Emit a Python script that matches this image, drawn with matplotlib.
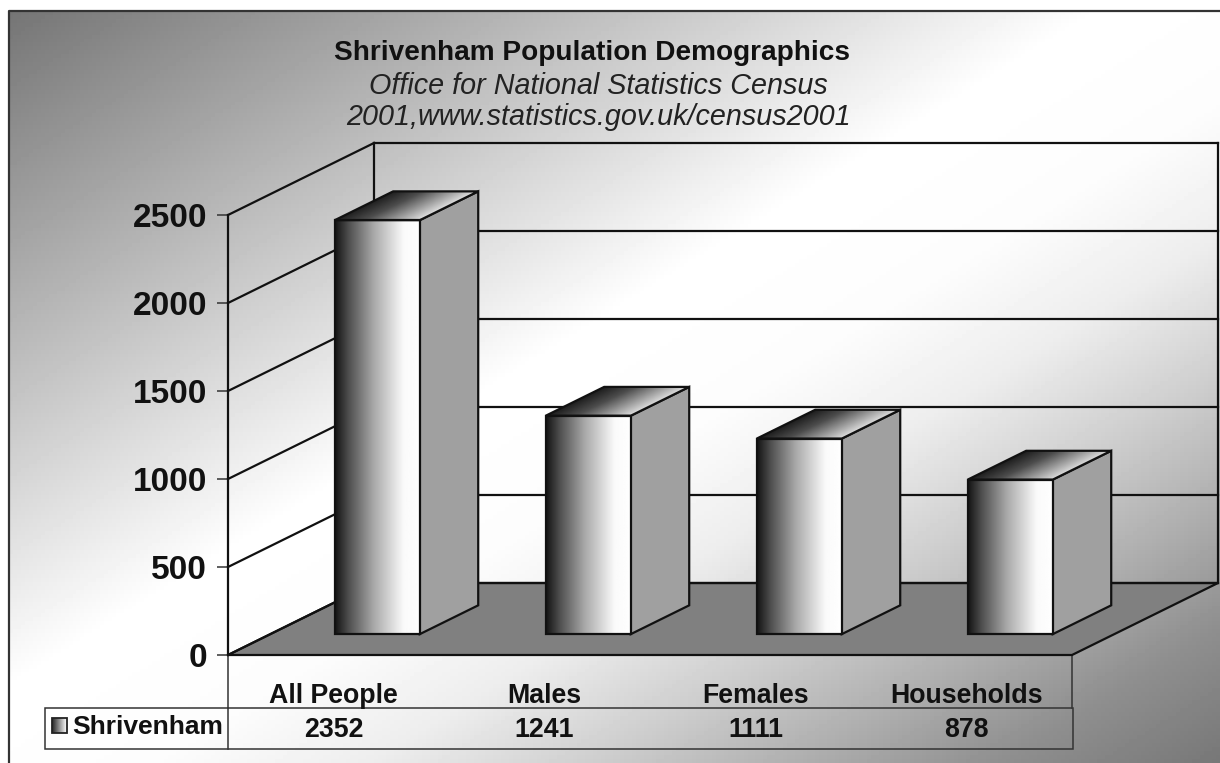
import numpy as np
import matplotlib
matplotlib.use('Agg')
import matplotlib.pyplot as plt
from matplotlib.patches import Polygon, Rectangle

plt.rcParams['font.family'] = ['Liberation Sans', 'DejaVu Sans']

categories = ['All People', 'Males', 'Females', 'Households']
values = [2352, 1241, 1111, 878]
series_name = 'Shrivenham'
y_ticks = [0, 500, 1000, 1500, 2000, 2500]

W, H = 1220, 763
fig = plt.figure(figsize=(W / 100, H / 100), dpi=100, facecolor='white')

# background, in pixel coordinates
bg = fig.add_axes([0, 0, 1, 1])
bg.set_xlim(0, W)
bg.set_ylim(H, 0)
bg.axis('off')
xx, yy = np.meshgrid(np.linspace(0, 1, 305), np.linspace(0, 1, 191))
t = (xx + yy) / 2
shade = np.interp(t, [0, 0.45, 0.56, 0.65, 0.74, 0.83, 0.91, 1], [0.46, 1, 0.99, 0.93, 0.81, 0.68, 0.56, 0.47])
bg.imshow(shade, extent=(9, W, H, 11), cmap='gray', vmin=0, vmax=1, aspect='auto', zorder=0)
bg.set_xlim(0, W)
bg.set_ylim(H, 0)
bg.plot([9, 9, W], [H, 11, 11], color='#333333', lw=1.6, zorder=1)

bg.text(592, 53, 'Shrivenham Population Demographics', fontsize=20.2, fontweight='bold',
        ha='center', va='center', color='#111111')
bg.text(598, 86, 'Office for National Statistics Census', fontsize=20.7, fontstyle='italic',
        ha='center', va='center', color='#222222')
bg.text(598, 117, '2001,www.statistics.gov.uk/census2001', fontsize=20.7, fontstyle='italic',
        ha='center', va='center', color='#222222')

# front plane of the 3d box is the real axes
ax = fig.add_axes([228 / W, 1 - 655 / H, 844 / W, 440 / H])
ax.patch.set_alpha(0)
n = len(categories)
PX_X = n / 844
PX_Y = 2500 / 440
DX = 146 * PX_X   # depth of the box
DY = 72 * PX_Y
BAR_W = 0.403
LINE = 1.6


def seg(xs, ys, **kw):
    kw.setdefault('color', '#111111')
    kw.setdefault('lw', LINE)
    ax.plot(xs, ys, clip_on=False, solid_capstyle='projecting', **kw)


# floor
ax.add_patch(Polygon([(0, 0), (n, 0), (n + DX, DY), (DX, DY)], closed=True, facecolor='#808080',
                     edgecolor='#111111', lw=LINE, clip_on=False, zorder=1))
# walls and gridlines
for v in y_ticks:
    seg([DX, n + DX], [v + DY, v + DY], zorder=1)
    seg([0, DX], [v, v + DY], zorder=1)
seg([DX, DX], [DY, 2500 + DY], zorder=1)
seg([n + DX, n + DX], [DY, 2500 + DY], zorder=1)

ramp = np.interp(np.linspace(0, 1, 128), [0, 0.15, 0.45, 0.8, 1], [0.08, 0.3, 0.66, 0.98, 1])

for i, val in enumerate(values):
    x0 = i + 0.5 + 0.3 * DX - BAR_W / 2
    x1 = x0 + BAR_W
    y0 = 0.29 * DY
    y1 = y0 + val
    ddx = 0.4 * DX
    ddy = 0.4 * DY

    # side face
    ax.add_patch(Polygon([(x1, y0), (x1 + ddx, y0 + ddy), (x1 + ddx, y1 + ddy), (x1, y1)], closed=True,
                         facecolor='#a0a0a0', edgecolor='#111111', lw=LINE, clip_on=False, zorder=3))
    # front face
    ax.imshow(ramp[None, :], extent=(x0, x1, y0, y1), cmap='gray', vmin=0, vmax=1,
              aspect='auto', clip_on=False, zorder=3)
    ax.add_patch(Rectangle((x0, y0), BAR_W, val, fill=False, edgecolor='#111111', lw=LINE,
                           clip_on=False, zorder=4))
    # top face, gradient sheared along the depth
    gx, gy = np.meshgrid(np.linspace(0, 1, 128), np.linspace(0, 1, 48))
    span = BAR_W + ddx
    u = (gx * span - gy * ddx) / BAR_W
    top = np.interp(u, [0, 0.35, 1], [0.12, 0.3, 0.88])
    im = ax.imshow(top, extent=(x0, x1 + ddx, y1, y1 + ddy), origin='lower', cmap='gray', vmin=0, vmax=1,
                   aspect='auto', zorder=3)
    corners = [(x0, y1), (x1, y1), (x1 + ddx, y1 + ddy), (x0 + ddx, y1 + ddy)]
    im.set_clip_box(fig.bbox)
    im.set_clip_path(Polygon(corners, closed=True, transform=ax.transData))
    ax.add_patch(Polygon(corners, closed=True, fill=False, edgecolor='#111111', lw=LINE,
                         clip_on=False, zorder=4))

ax.set_xlim(0, n)
ax.set_ylim(0, 2500)
for s in ['top', 'right', 'bottom']:
    ax.spines[s].set_visible(False)
ax.spines['left'].set_linewidth(LINE)
ax.spines['left'].set_color('#111111')
ax.set_yticks(y_ticks)
ax.set_yticklabels([str(v) for v in y_ticks], fontsize=24, fontweight='bold', color='#111111')
ax.tick_params(axis='y', length=8, width=1.1, pad=7, color='#333333')
ax.set_xticks(np.arange(n) + 0.5)
ax.set_xticklabels(categories, fontsize=19.3, fontweight='bold', color='#111111')
ax.tick_params(axis='x', length=0, pad=20)

# data table under the chart
bg.plot([228, 228], [655, 708], color='#333333', lw=1.1, zorder=1)
bg.plot([1072, 1072], [655, 708], color='#333333', lw=1.1, zorder=1)
bg.add_patch(Rectangle((45, 708), 1028, 41, fill=False, edgecolor='#333333', lw=1.1, zorder=1))
bg.plot([228, 228], [708, 749], color='#333333', lw=1.1, zorder=1)
bg.imshow(np.linspace(0.15, 1, 32)[None, :], extent=(52, 67, 733, 718), cmap='gray', vmin=0, vmax=1,
          aspect='auto', zorder=1)
bg.add_patch(Rectangle((52, 718), 15, 15, fill=False, edgecolor='#222222', lw=1.3, zorder=2))
bg.set_xlim(0, W)
bg.set_ylim(H, 0)
bg.text(72, 727, series_name, fontsize=19, fontweight='bold', ha='left', va='center', color='#111111')
for i, val in enumerate(values):
    ax.text(i + 0.5, -75 * PX_Y, str(val), fontsize=19.3, fontweight='bold',
            ha='center', va='center', color='#111111', clip_on=False)

fig.savefig('out.png', dpi=100)
